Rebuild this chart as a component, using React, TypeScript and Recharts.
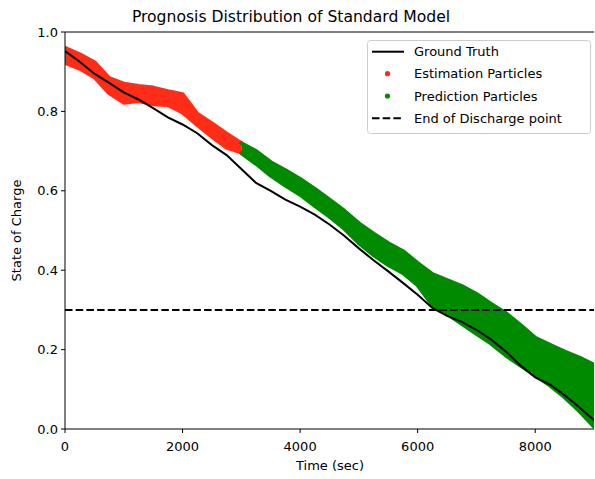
import React from 'react';
import { ComposedChart, Area, Line, XAxis, YAxis, ReferenceLine, Legend } from 'recharts';

const times = [0, 250, 500, 750, 1000, 1250, 1500, 1750, 2000, 2250, 2500, 2750, 3000, 3250, 3500, 3750, 4000, 4250, 4500, 4750, 5000, 5250, 5500, 5750, 6000, 6250, 6500, 6750, 7000, 7250, 7500, 7750, 8000, 8250, 8500, 8750, 9000];
const groundTruth = [0.952, 0.925, 0.895, 0.872, 0.848, 0.83, 0.808, 0.785, 0.767, 0.745, 0.715, 0.69, 0.655, 0.62, 0.6, 0.578, 0.56, 0.54, 0.515, 0.487, 0.455, 0.425, 0.397, 0.368, 0.338, 0.305, 0.285, 0.27, 0.25, 0.225, 0.195, 0.16, 0.13, 0.112, 0.085, 0.055, 0.022];

const estTimes = [0, 250, 500, 750, 1000, 1250, 1500, 1750, 2000, 2250, 2500, 2750, 3000];
const estLow = [0.922, 0.908, 0.886, 0.846, 0.822, 0.826, 0.818, 0.816, 0.797, 0.766, 0.736, 0.709, 0.697];
const estHigh = [0.96, 0.944, 0.924, 0.884, 0.87, 0.864, 0.86, 0.851, 0.843, 0.794, 0.77, 0.744, 0.72];

const predTimes = [3000, 3250, 3500, 3750, 4000, 4250, 4500, 4750, 5000, 5250, 5500, 5750, 6000, 6250, 6500, 6750, 7000, 7250, 7500, 7750, 8000, 8250, 8500, 8750, 9000];
const predLow = [0.695, 0.668, 0.638, 0.613, 0.59, 0.562, 0.535, 0.505, 0.468, 0.438, 0.413, 0.393, 0.362, 0.312, 0.29, 0.265, 0.24, 0.215, 0.185, 0.16, 0.135, 0.11, 0.08, 0.045, 0.006];
const predHigh = [0.72, 0.7, 0.672, 0.652, 0.63, 0.605, 0.578, 0.55, 0.518, 0.492, 0.468, 0.448, 0.418, 0.39, 0.375, 0.36, 0.34, 0.315, 0.292, 0.262, 0.23, 0.212, 0.195, 0.18, 0.162];

const xTicks = [0, 2000, 4000, 6000, 8000];
const yTicks = [0, 0.2, 0.4, 0.6, 0.8, 1.0];
const eodThreshold = 0.3;

const RED = '#ff2d17';
const GREEN = '#008a00';
const FONT = 'DejaVu Sans, sans-serif';

const data = times.map((t, i) => {
  const ei = estTimes.indexOf(t);
  const pi = predTimes.indexOf(t);
  return {
    t,
    truth: groundTruth[i],
    est: ei >= 0 ? [estLow[ei], estHigh[ei]] : null,
    pred: pi >= 0 ? [predLow[pi], predHigh[pi]] : null,
  };
});

const LegendBox = () => (
  <svg width={225} height={95} style={{ display: 'block' }}>
    <rect x={0.5} y={0.5} width={223} height={93} rx={3} fill="rgba(255,255,255,0.85)" stroke="#cccccc" strokeWidth={1} />
    <line x1={5} x2={37} y1={11.7} y2={11.7} stroke="#000" strokeWidth={2} />
    <text x={47} y={11.7} dy="0.35em" fontSize={13} fontFamily={FONT} fill="#000">Ground Truth</text>
    <circle cx={20.5} cy={33.7} r={2.6} fill={RED} />
    <text x={47} y={33.7} dy="0.35em" fontSize={13} fontFamily={FONT} fill="#000">Estimation Particles</text>
    <circle cx={20.5} cy={56} r={2.6} fill={GREEN} />
    <text x={47} y={56} dy="0.35em" fontSize={13} fontFamily={FONT} fill="#000">Prediction Particles</text>
    <line x1={5} x2={37} y1={78.3} y2={78.3} stroke="#000" strokeWidth={2} strokeDasharray="7.5 3.2" />
    <text x={47} y={78.3} dy="0.35em" fontSize={13} fontFamily={FONT} fill="#000">End of Discharge point</text>
  </svg>
);

export default function App() {
  return (
    <div style={{ position: 'absolute', left: 0, top: 0, width: 595, height: 479, background: '#fff' }}>
      <ComposedChart width={595} height={479} data={data} margin={{ top: 32, right: 1, bottom: 0, left: 0 }}>
        <XAxis
          dataKey="t"
          type="number"
          domain={[0, 9000]}
          ticks={xTicks}
          allowDataOverflow
          height={50}
          tickSize={4}
          tickMargin={9}
          axisLine={{ stroke: '#000', strokeWidth: 1 }}
          tickLine={{ stroke: '#000', strokeWidth: 1 }}
          tick={{ fill: '#000', fontSize: 13, fontFamily: FONT }}
        />
        <YAxis
          type="number"
          domain={[0, 1]}
          ticks={yTicks}
          allowDataOverflow
          width={65}
          tickSize={4}
          tickMargin={3}
          tickFormatter={(v: number) => v.toFixed(1)}
          axisLine={{ stroke: '#000', strokeWidth: 1 }}
          tickLine={{ stroke: '#000', strokeWidth: 1 }}
          tick={{ fill: '#000', fontSize: 13, fontFamily: FONT }}
        />
        <Area
          dataKey="est"
          type="linear"
          fill={RED}
          fillOpacity={1}
          stroke={RED}
          strokeWidth={4}
          strokeLinejoin="round"
          strokeLinecap="round"
          isAnimationActive={false}
          activeDot={false}
        />
        <Area
          dataKey="pred"
          type="linear"
          fill={GREEN}
          fillOpacity={1}
          stroke={GREEN}
          strokeWidth={4}
          strokeLinejoin="round"
          strokeLinecap="round"
          isAnimationActive={false}
          activeDot={false}
        />
        <Line dataKey="truth" type="linear" stroke="#000" strokeWidth={2} dot={false} activeDot={false} isAnimationActive={false} />
        <ReferenceLine y={eodThreshold} stroke="#000" strokeWidth={2} strokeDasharray="7.5 3.2" />
        <ReferenceLine y={1} stroke="#000" strokeWidth={1} />
        <Legend
          layout="horizontal"
          verticalAlign="middle"
          align="center"
          content={() => <LegendBox />}
          wrapperStyle={{ position: 'absolute', left: 367, top: 40, width: 225, height: 95 }}
        />
      </ComposedChart>
      <svg width={595} height={479} style={{ position: 'absolute', left: 0, top: 0, pointerEvents: 'none' }}>
        <text x={291} y={22} textAnchor="middle" fontSize={15.6} fontFamily={FONT} fill="#000">Prognosis Distribution of Standard Model</text>
        <text x={330} y={470} textAnchor="middle" fontSize={13} fontFamily={FONT} fill="#000">Time (sec)</text>
        <text x={21} y={230.5} textAnchor="middle" fontSize={13} fontFamily={FONT} fill="#000" transform="rotate(-90 21 230.5)">State of Charge</text>
      </svg>
    </div>
  );
}
